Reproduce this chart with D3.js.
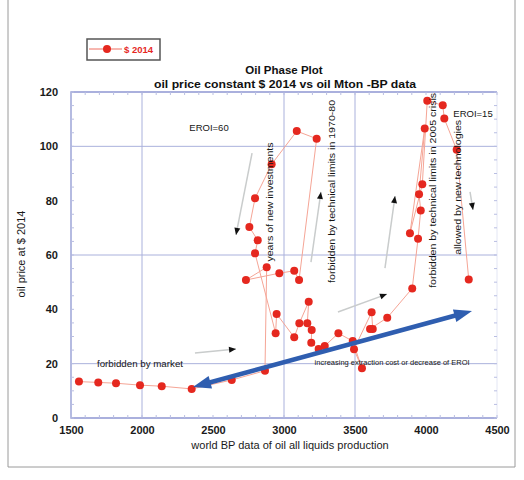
<!DOCTYPE html>
<html>
<head>
<meta charset="utf-8">
<script src="https://cdn.jsdelivr.net/npm/d3@7"></script>
<style>
  html, body { margin: 0; padding: 0; background: #fff; }
  svg { display: block; font-family: "Liberation Sans", Arial, sans-serif; }
</style>
</head>
<body>
<svg id="chart" width="524" height="480"></svg>
<script>
// World oil production (Mt, BP) against oil price in constant 2014 dollars
const production = [1556, 1692, 1817, 1986, 2139, 2350, 2632, 2866, 2878, 2732,
  2967, 3072, 3106, 3230, 3090, 2913, 2796, 2756, 2815, 2796,
  2941, 2948, 3072, 3108, 3174, 3164, 3195, 3192, 3244, 3287,
  3383, 3484, 3549, 3493, 3617, 3625, 3606, 3727, 3903, 3944,
  3963, 3951, 3991, 3887, 3974, 4009, 4118, 4129, 4216, 4301];
const price = [13.4, 13.1, 12.8, 12.1, 11.7, 10.7, 14.0, 17.4, 55.5, 50.8,
  53.3, 54.2, 50.8, 102.8, 105.6, 93.4, 80.9, 70.3, 65.4, 60.6,
  31.2, 38.3, 29.7, 34.9, 42.8, 34.9, 32.4, 27.7, 25.4, 26.5,
  31.2, 28.3, 18.3, 25.3, 38.9, 32.8, 32.8, 36.9, 47.7, 66.0,
  76.4, 82.4, 106.6, 68.0, 86.0, 116.8, 115.1, 110.2, 98.7, 51.0];

const xTicks = [1500, 2000, 2500, 3000, 3500, 4000, 4500];
const yTicks = [0, 20, 40, 60, 80, 100, 120];
const xGrid = [2000, 3000, 3500];
const yGrid = [20, 60, 100];
const seriesName = "$ 2014";

// annotation arrows, in data units [x1, y1, x2, y2]
const guideArrows = [
  [2775, 97.5, 2662, 67.4],
  [3190, 57.4, 3260, 83.2],
  [2373, 23.9, 2662, 25.4],
  [3380, 39.0, 3725, 45.6],
  [3711, 55.2, 3782, 81.7],
  [4310, 83.2, 4331, 76.6]
];
const trendArrow = [2359, 11.4, 4324, 39.4];

// annotation labels: text, x, y, rotated, length in px
const notes = [
  { text: "EROI=60", x: 2472, y: 107.0, rot: false, size: 9.5 },
  { text: "EROI=15", x: 4331, y: 112.0, rot: false, size: 9.5 },
  { text: "years of new investments", x: 2901, y: 79.5, rot: true, size: 9.5, len: 119 },
  { text: "forbidden by technical limits in 1970-80", x: 3336, y: 83.4, rot: true, size: 9.5, len: 183 },
  { text: "forbidden by technical limits in 2005 crisis", x: 4049, y: 83.8, rot: true, size: 9.5, len: 195 },
  { text: "allowed by new technologies", x: 4225, y: 84.9, rot: true, size: 9.5, len: 135 },
  { text: "forbidden by market", x: 1986, y: 20.2, rot: false, size: 9.5, len: 86 },
  { text: "increasing extraction cost or decrease of EROI", x: 3761, y: 20.6, rot: false, size: 7.5, len: 155 }
];

const svg = d3.select("#chart");
const x = d3.scaleLinear().domain([1500, 4500]).range([71, 497]);
const y = d3.scaleLinear().domain([0, 120]).range([418, 92]);

const gridColor = "#aab1dc";
const red = "#e5281f";

// outer frame
svg.append("path")
  .attr("d", "M8,0 V467 H515 V0")
  .attr("fill", "none").attr("stroke", "#9a9a9a").attr("stroke-width", 1);

// gridlines
svg.append("g").selectAll("line").data(xGrid).join("line")
  .attr("x1", d => x(d)).attr("x2", d => x(d))
  .attr("y1", y(0)).attr("y2", y(120))
  .attr("stroke", gridColor).attr("stroke-width", 1);
svg.append("g").selectAll("line").data(yGrid).join("line")
  .attr("x1", x(1500)).attr("x2", x(4500))
  .attr("y1", d => y(d)).attr("y2", d => y(d))
  .attr("stroke", gridColor).attr("stroke-width", 1);

// plot frame
svg.append("path")
  .attr("d", `M${x(4500)},${y(120)} H${x(1500)} V${y(0)} H${x(4500)}`)
  .attr("fill", "none").attr("stroke", "#8e97d2").attr("stroke-width", 1.3);
svg.append("line")
  .attr("x1", x(4500)).attr("x2", x(4500)).attr("y1", y(0)).attr("y2", y(120))
  .attr("stroke", "#e3e6f4").attr("stroke-width", 1);

// minor ticks on all four sides
const minorX = d3.range(1500, 4501, 100);
const minorY = d3.range(0, 121, 5);
const mt = svg.append("g").attr("stroke", "#b9bee2").attr("stroke-width", 1);
mt.selectAll(".mb").data(minorX).join("line")
  .attr("x1", d => x(d)).attr("x2", d => x(d)).attr("y1", y(0)).attr("y2", y(0) - 3);
mt.selectAll(".mtp").data(minorX).join("line")
  .attr("x1", d => x(d)).attr("x2", d => x(d)).attr("y1", y(120)).attr("y2", y(120) + 3);
mt.selectAll(".ml").data(minorY).join("line")
  .attr("x1", x(1500)).attr("x2", x(1500) + 3).attr("y1", d => y(d)).attr("y2", d => y(d));
mt.selectAll(".mr").data(minorY).join("line")
  .attr("x1", x(4500)).attr("x2", x(4500) - 3).attr("y1", d => y(d)).attr("y2", d => y(d));

// axes
const xAxis = svg.append("g").attr("transform", `translate(0,${y(0)})`)
  .call(d3.axisBottom(x).tickValues(xTicks).tickFormat(d3.format("d")).tickSize(0).tickPadding(8));
const yAxis = svg.append("g").attr("transform", `translate(${x(1500)},0)`)
  .call(d3.axisLeft(y).tickValues(yTicks).tickSize(0).tickPadding(13));
[xAxis, yAxis].forEach(g => {
  g.select(".domain").remove();
  g.selectAll("text").attr("font-size", 11).attr("fill", "#1a1a1a")
    .attr("font-family", "Liberation Sans, Arial, sans-serif").attr("font-weight", "bold");
});

// axis titles
svg.append("text")
  .attr("x", 290).attr("y", 449).attr("text-anchor", "middle")
  .attr("font-size", 11).attr("fill", "#1a1a1a")
  .text("world BP data of oil all liquids production");
svg.append("text")
  .attr("transform", "translate(25,254) rotate(-90)").attr("text-anchor", "middle")
  .attr("font-size", 11).attr("fill", "#1a1a1a")
  .text("oil price at $ 2014");

// title
svg.append("text").attr("x", 284).attr("y", 74).attr("text-anchor", "middle")
  .attr("font-size", 11.5).attr("font-weight", "bold").attr("fill", "#111")
  .text("Oil Phase Plot");
svg.append("text").attr("x", 285).attr("y", 87.5).attr("text-anchor", "middle")
  .attr("font-size", 11.5).attr("font-weight", "bold").attr("fill", "#111")
  .attr("textLength", 262).attr("lengthAdjust", "spacingAndGlyphs")
  .text("oil price constant $ 2014 vs  oil Mton -BP data");

// series line and points
const pts = production.map((p, i) => [p, price[i]]);
svg.append("path")
  .datum(pts)
  .attr("d", d3.line().x(d => x(d[0])).y(d => y(d[1])))
  .attr("fill", "none").attr("stroke", "#f5a596").attr("stroke-width", 1);
svg.append("g").selectAll("circle").data(pts).join("circle")
  .attr("cx", d => x(d[0])).attr("cy", d => y(d[1])).attr("r", 4)
  .attr("fill", red);

// guide arrows: grey shaft, small black head
function head(g, x1, y1, x2, y2, len, wid, color) {
  const a = Math.atan2(y2 - y1, x2 - x1);
  const bx = x2 - len * Math.cos(a), by = y2 - len * Math.sin(a);
  const nx = -Math.sin(a) * wid / 2, ny = Math.cos(a) * wid / 2;
  g.append("path")
    .attr("d", `M${x2},${y2} L${bx + nx},${by + ny} L${bx - nx},${by - ny} Z`)
    .attr("fill", color);
}
const ag = svg.append("g");
guideArrows.forEach(([a, b, c, d]) => {
  const x1 = x(a), y1 = y(b), x2 = x(c), y2 = y(d);
  ag.append("line").attr("x1", x1).attr("y1", y1).attr("x2", x2).attr("y2", y2)
    .attr("stroke", "#c9cccc").attr("stroke-width", 1.5);
  head(ag, x1, y1, x2, y2, 7, 6, "#111");
});

// trend arrow, double headed
{
  const [a, b, c, d] = trendArrow;
  const x1 = x(a), y1 = y(b), x2 = x(c), y2 = y(d);
  const ang = Math.atan2(y2 - y1, x2 - x1);
  const hl = 18;
  ag.append("line")
    .attr("x1", x1 + hl * 0.8 * Math.cos(ang)).attr("y1", y1 + hl * 0.8 * Math.sin(ang))
    .attr("x2", x2 - hl * 0.8 * Math.cos(ang)).attr("y2", y2 - hl * 0.8 * Math.sin(ang))
    .attr("stroke", "#2f5eb0").attr("stroke-width", 4.5);
  head(ag, x1, y1, x2, y2, hl, 13, "#2f5eb0");
  head(ag, x2, y2, x1, y1, hl, 13, "#2f5eb0");
}

// annotation labels
const ng = svg.append("g");
notes.forEach(n => {
  const t = ng.append("text")
    .attr("text-anchor", "middle")
    .attr("dominant-baseline", "central")
    .attr("font-size", n.size).attr("fill", "#151515")
    .text(n.text);
  if (n.len) t.attr("textLength", n.len).attr("lengthAdjust", "spacingAndGlyphs");
  if (n.rot) t.attr("transform", `translate(${x(n.x)},${y(n.y)}) rotate(-90)`);
  else t.attr("x", x(n.x)).attr("y", y(n.y));
});

// legend
const lg = svg.append("g");
lg.append("rect").attr("x", 87).attr("y", 39).attr("width", 73).attr("height", 21)
  .attr("fill", "#fff").attr("stroke", "#555").attr("stroke-width", 1.5);
lg.append("line").attr("x1", 89).attr("x2", 122).attr("y1", 49).attr("y2", 49)
  .attr("stroke", "#ef6f60").attr("stroke-width", 1);
lg.append("circle").attr("cx", 107).attr("cy", 49).attr("r", 4).attr("fill", red);
lg.append("text").attr("x", 124).attr("y", 52.5).attr("font-size", 9.5)
  .attr("fill", red).attr("font-weight", "bold").text(seriesName);
</script>
</body>
</html>
